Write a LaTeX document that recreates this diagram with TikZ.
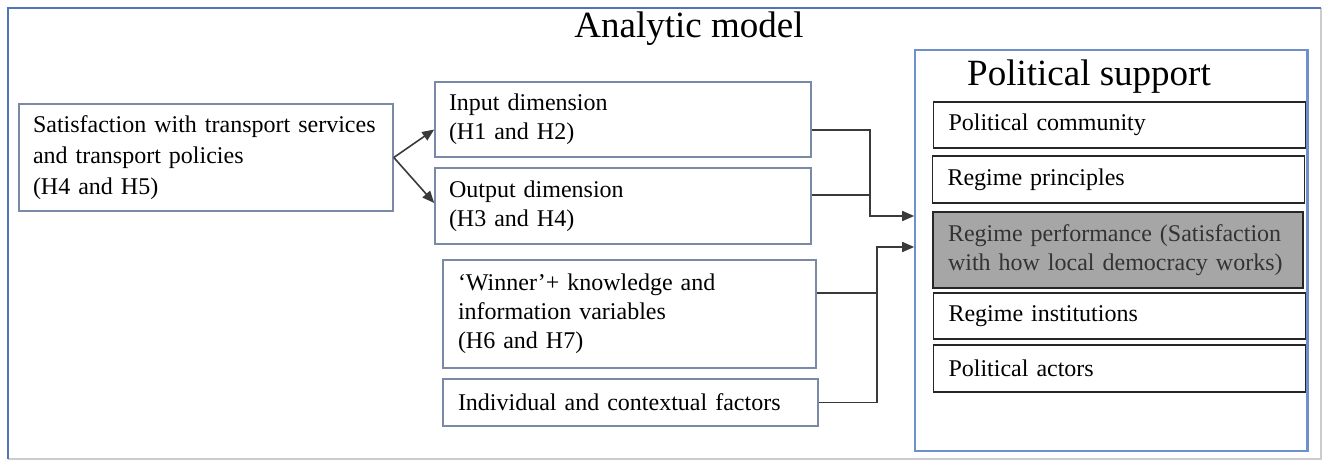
\documentclass[tikz,border=0pt]{standalone}
\usepackage{fontspec}
\setmainfont{Liberation Serif}
\usetikzlibrary{arrows.meta,calc}
\definecolor{frameblue}{HTML}{4F74B8}
\definecolor{psblue}{HTML}{7090CC}
\definecolor{slate}{HTML}{7A8AA6}
\definecolor{conngray}{HTML}{3A3A3A}
\definecolor{perfgray}{HTML}{A6A6A6}
\definecolor{perftext}{HTML}{333333}
\begin{document}
\begin{tikzpicture}[x=0.5pt,y=-0.5pt,
  lbox/.style={draw=slate, line width=0.8pt, fill=white, inner xsep=7pt, inner ysep=0pt,
    align=left, font=\fontsize{12}{14.5}\selectfont},
  pbox/.style={draw=black!85, line width=0.8pt, fill=white, inner xsep=7.5pt, inner ysep=0pt,
    align=left, text width=171pt, font=\fontsize{12}{14.5}\selectfont},
  conn/.style={draw=conngray, line width=0.8pt},
  tip/.style={-{Triangle[length=6pt,width=5pt]}},
  bigtitle/.style={font=\fontsize{18.5}{20}\selectfont, inner sep=0pt}
]
\useasboundingbox (0,0) rectangle (1324,462);
% outer frame
\draw[black!20, line width=0.6pt] (1321,8) -- (1321,459) -- (8,459);
\draw[frameblue, line width=0.9pt] (8,459) -- (8,8) -- (1321,8);
\node[bigtitle, anchor=base] (title) at (689,37) {Analytic model};

% left boxes
\node[lbox, text width=173pt, minimum height=53.5pt, font=\fontsize{12}{15.5}\selectfont] (sat) at (206,157.5)
  {Satisfaction with transport services\\and transport policies\\(H4 and H5)};
\node[lbox, text width=174pt, minimum height=37.5pt] (in) at (623,119.5)
  {Input dimension\\(H1 and H2)};
\node[lbox, text width=174pt, minimum height=38pt] (out) at (623,206)
  {Output dimension\\(H3 and H4)};
\node[lbox, inner xsep=7.5pt, text width=171.5pt, minimum height=54pt] (win) at (629.5,314)
  {‘Winner’+ knowledge and\\information variables\\(H6 and H7)};
\node[lbox, inner xsep=7.5pt, text width=172.5pt, minimum height=23.5pt] (ind) at (630.5,402.5)
  {Individual and contextual factors};

% political support
\node[draw=psblue, line width=0.8pt, minimum width=196pt, minimum height=200.5pt, inner sep=0pt] (ps) at (1111,250.5) {};
\node[bigtitle, anchor=base] (pstitle) at (1089,85) {Political support};
\node[pbox, minimum height=23pt] (pc) at (1119.5,125) {Political community};
\node[pbox, minimum height=23.5pt] (rp) at (1118.5,179.5) {Regime principles};
\node[pbox, fill=perfgray, text=perftext, text width=170pt, minimum height=38pt] (rperf) at (1118,250)
  {Regime performance (Satisfaction\\with how local democracy works)};
\node[pbox, minimum height=23pt] (ri) at (1119.5,316) {Regime institutions};
\node[pbox, minimum height=23.5pt] (pa) at (1119.5,368.5) {Political actors};
\draw[psblue, line width=0.8pt] (ps.north east) -- (ps.south east);

% connectors
\draw[conn, tip] (sat.east) -- ([yshift=-5pt]in.west);
\draw[conn, tip] (sat.east) -- ([yshift=1.5pt]out.west);

\coordinate (j1) at (870,216);
\coordinate (j2) at (877,247);
\draw[conn, tip] ([yshift=-5.25pt]in.east) -| (j1) -- (j1 -| ps.west);
\draw[conn] ([yshift=5.5pt]out.east) -- ([yshift=5.5pt]out.east -| j1);
\draw[conn, tip] ([yshift=10.5pt]win.east) -| (j2) -- (j2 -| ps.west);
\draw[conn] (ind.east) -| (j2);
\end{tikzpicture}
\end{document}
